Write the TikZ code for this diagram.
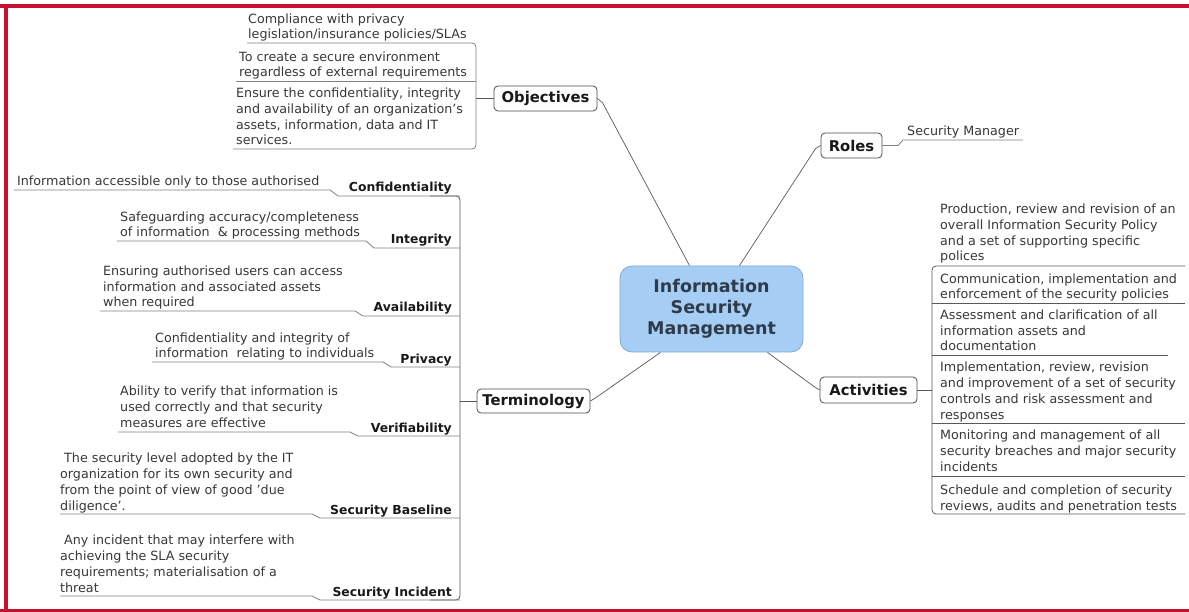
\documentclass[tikz,border=0pt]{standalone}
\usepackage{fontspec}
\setmainfont{DejaVu Sans}
\usetikzlibrary{calc}
\definecolor{framered}{HTML}{C8102E}
\definecolor{txt}{HTML}{383838}
\definecolor{boxfill}{HTML}{A6CDF4}
\definecolor{boxedge}{HTML}{7FAADB}
\definecolor{ctext}{HTML}{2E3B4A}
\begin{document}
\begin{tikzpicture}[x=1pt,y=-1pt,
  desc/.style={font=\fontsize{12.7}{15.8}\selectfont, text=txt, align=left, inner sep=0pt, anchor=base west},
  lab/.style={font=\fontsize{12.4}{14}\selectfont\bfseries, text=black!90, inner sep=0pt, anchor=base east},
  branch/.style={draw=black!70, rounded corners=4pt, fill=white, font=\fontsize{14.8}{16}\selectfont\bfseries, text=black!90, inner sep=0pt, line width=0.8pt},
  ul/.style={draw=black!65, line width=0.8pt},
  ulight/.style={draw=black!50, line width=0.8pt},
  conn/.style={draw=black!65, line width=0.7pt}]
\useasboundingbox (0,0) rectangle (1189,612);
\fill[white] (0,0) rectangle (1189,612);
% frame
\fill[framered] (0,4) rectangle (1189,8);
\fill[framered] (4,4) rectangle (8,612);
\fill[framered] (0,609) rectangle (1189,612);

% centre
\node[draw=boxedge, fill=boxfill, rounded corners=12pt, line width=0.8pt, minimum width=183pt, minimum height=86pt, inner sep=0pt, font=\fontsize{17.5}{21}\selectfont\bfseries, text=ctext, align=center] (c) at (711.5,309) {Information\\Security\\Management};

% branches
\node[branch, minimum width=103pt, minimum height=25pt] (obj) at (545.5,98.5) {Objectives};
\node[branch, minimum width=61pt, minimum height=25pt] (roles) at (851.5,145.5) {Roles};
\node[branch, minimum width=113pt, minimum height=24pt] (term) at (533.5,401) {Terminology};
\node[branch, minimum width=97pt, minimum height=26pt] (act) at (868.5,390) {Activities};

\draw[conn] (obj.east) -- ++(5,4) -- ($(c.north)+(-22,0)$);
\draw[conn] (roles.west) -- ++(-5,3) -- ($(c.north)+(28,0)$);
\draw[conn] (term.east) -- ++(5,-3) -- ($(c.south)+(-51,0)$);
\draw[conn] (act.west) -- ++(-5,-3) -- ($(c.south)+(56,0)$);

% objectives
\node[desc] (o1) at (248,39) {Compliance with privacy\\legislation/insurance policies/SLAs};
\node[desc] (o2) at (239,77) {To create a secure environment\\regardless of external requirements};
\node[desc] (o3) at (236,145) {Ensure the confidentiality, integrity\\and availability of an organization's\\assets, information, data and IT\\services.};
\draw[ulight, rounded corners=4pt] (247,43) -- (476,43) -- (476,149) -- (233,149);
\draw[ulight] (236,81) -- (476,81);
\draw[ul] (476,98.5) -- (obj.west);

% roles
\node[desc] (r1) at (907,136) {Security Manager};
\draw[ulight] (roles.east) -- (898,145.5) -- (903,140) -- (1023,140);

% terminology
\draw[ul, rounded corners=4pt] (430,196) -- (460,196) -- (460,600) -- (430,600);
\draw[ul] (460,401) -- (term.west);

\node[desc] (d1) at (17,186) {Information accessible only to those authorised};
\node[lab] (l1) at (452,192) {Confidentiality};
\draw[ulight] (14,190) -- (330,190) -- (338,196) -- (460,196);

\node[desc] (d2) at (120,237) {Safeguarding accuracy/completeness\\of information \ \& processing methods};
\node[lab] (l2) at (452,244) {Integrity};
\draw[ulight] (117,241) -- (366,241) -- (374,248) -- (460,248);

\node[desc] (d3) at (103,307) {Ensuring authorised users can access\\information and associated assets\\when required};
\node[lab] (l3) at (452,312) {Availability};
\draw[ulight] (100,311) -- (355,311) -- (363,316) -- (460,316);

\node[desc] (d4) at (155,358) {Confidentiality and integrity of\\information \ relating to individuals};
\node[lab] (l4) at (452,363) {Privacy};
\draw[ulight] (152,362) -- (383,362) -- (391,367) -- (460,367);

\node[desc] (d5) at (120,427) {Ability to verify that information is\\used correctly and that security\\measures are effective};
\node[lab] (l5) at (452,432) {Verifiability};
\draw[ulight] (118,432) -- (350,432) -- (358,436) -- (460,436);

\node[desc] (d6) at (60,510) {\ The security level adopted by the IT\\organization for its own security and\\from the point of view of good 'due\\diligence'.};
\node[lab] (l6) at (452,514) {Security Baseline};
\draw[ulight] (60,514) -- (312,514) -- (320,518) -- (460,518);

\node[desc] (d7) at (60,592) {\ Any incident that may interfere with\\achieving the SLA security\\requirements; materialisation of a\\threat};
\node[lab] (l7) at (452,596) {Security Incident};
\draw[ulight] (60,596) -- (312,596) -- (320,600) -- (460,600);

% activities
\draw[ul, rounded corners=4pt] (1185,266) -- (932,266) -- (932,514) -- (1185,514);
\draw[ul] (932,303) -- (1185,303);
\draw[ul] (932,355) -- (1168,355);
\draw[ul] (932,423) -- (1185,423);
\draw[ul] (932,476) -- (1185,476);
\draw[ul] (act.east) -- (932,390);

\node[desc] (a1) at (940,261) {Production, review and revision of an\\overall Information Security Policy\\and a set of supporting specific\\polices};
\node[desc] (a2) at (940,299) {Communication, implementation and\\enforcement of the security policies};
\node[desc] (a3) at (940,351) {Assessment and clarification of all\\information assets and\\documentation};
\node[desc] (a4) at (940,419) {Implementation, review, revision\\and improvement of a set of security\\controls and risk assessment and\\responses};
\node[desc] (a5) at (940,471) {Monitoring and management of all\\security breaches and major security\\incidents};
\node[desc] (a6) at (940,510) {Schedule and completion of security\\reviews, audits and penetration tests};
\end{tikzpicture}
\end{document}
